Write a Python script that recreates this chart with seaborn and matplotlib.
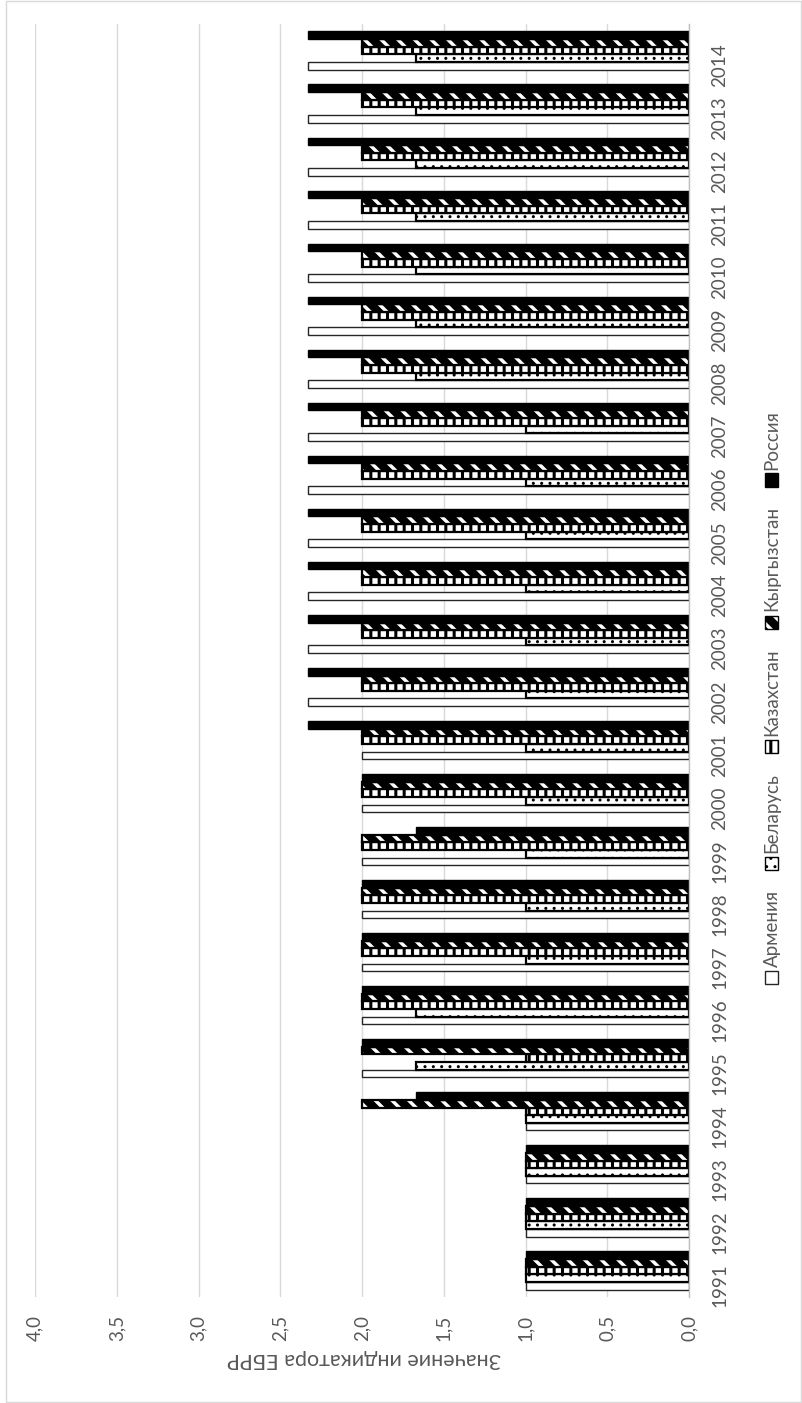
import matplotlib
matplotlib.use("Agg")
import matplotlib.pyplot as plt
from matplotlib.patches import Rectangle
import pandas as pd
import seaborn as sns

# EBRR transition indicator by year and country
years = ["1991", "1992", "1993", "1994", "1995", "1996", "1997", "1998",
         "1999", "2000", "2001", "2002", "2003", "2004", "2005", "2006",
         "2007", "2008", "2009", "2010", "2011", "2012", "2013", "2014"]
countries = ["Армения", "Беларусь", "Казахстан", "Кыргызстан", "Россия"]

armenia = [1.00, 1.00, 1.00, 1.00, 2.00, 2.00, 2.00, 2.00, 2.00, 2.00, 2.00, 2.33,
           2.33, 2.33, 2.33, 2.33, 2.33, 2.33, 2.33, 2.33, 2.33, 2.33, 2.33, 2.33]
belarus = [1.00, 1.00, 1.00, 1.00, 1.67, 1.67, 1.00, 1.00, 1.00, 1.00, 1.00, 1.00,
           1.00, 1.00, 1.00, 1.00, 1.00, 1.67, 1.67, 1.67, 1.67, 1.67, 1.67, 1.67]
kazakhstan = [1.00, 1.00, 1.00, 1.00, 1.00, 2.00, 2.00, 2.00, 2.00, 2.00, 2.00, 2.00,
              2.00, 2.00, 2.00, 2.00, 2.00, 2.00, 2.00, 2.00, 2.00, 2.00, 2.00, 2.00]
kyrgyzstan = [1.00, 1.00, 1.00, 2.00, 2.00, 2.00, 2.00, 2.00, 2.00, 2.00, 2.00, 2.00,
              2.00, 2.00, 2.00, 2.00, 2.00, 2.00, 2.00, 2.00, 2.00, 2.00, 2.00, 2.00]
russia = [1.00, 1.00, 1.00, 1.67, 2.00, 2.00, 2.00, 2.00, 1.67, 2.00, 2.33, 2.33,
          2.33, 2.33, 2.33, 2.33, 2.33, 2.33, 2.33, 2.33, 2.33, 2.33, 2.33, 2.33]

value_ticks = [0.0, 0.5, 1.0, 1.5, 2.0, 2.5, 3.0, 3.5, 4.0]
axis_title = "Значение индикатора ЕБРР"

series = [armenia, belarus, kazakhstan, kyrgyzstan, russia]
df = pd.DataFrame({
    "year": years * len(countries),
    "country": [c for c in countries for _ in years],
    "value": [v for s in series for v in s],
})

sns.set_theme(style="white")
plt.rcParams["font.family"] = ["Lato", "DejaVu Sans"]
plt.rcParams["hatch.linewidth"] = 2.0

TXT = "#595959"
GRID = "#d9d9d9"
W, H = 802, 1403
FS = 13.5

# fill / hatch per country
styles = {
    "Армения":    dict(face="white", edge="#262626", hatch=None, hlw=None, lw=1.0),
    "Беларусь":   dict(face="white", edge="black", hatch="..", hlw=1.0, lw=1.6),
    "Казахстан":  dict(face="white", edge="black", hatch="||", hlw=2.2, lw=1.6),
    "Кыргызстан": dict(face="white", edge="black", hatch="\\\\", hlw=6.0, lw=1.6),
    "Россия":     dict(face="black", edge="black", hatch=None, hlw=None, lw=1.0),
}


def style_patch(p, st):
    p.set_facecolor(st["face"])
    p.set_edgecolor(st["edge"])
    p.set_linewidth(st["lw"])
    if st["hatch"]:
        p.set_hatch(st["hatch"])
        if hasattr(p, "set_hatch_linewidth"):
            p.set_hatch_linewidth(st["hlw"])


fig = plt.figure(figsize=(W / 100, H / 100), dpi=100)
fig.patch.set_facecolor("white")
ax = fig.add_axes([35 / W, 1 - 1297 / H, (689 - 35) / W, (1297 - 24) / H])

sns.barplot(data=df, x="value", y="year", hue="country", order=years,
            hue_order=countries, orient="h", width=0.72, legend=False,
            palette=["white"] * len(countries), ax=ax, err_kws={"linewidth": 0})

for cont, name in zip(ax.containers, countries):
    for p in cont.patches:
        style_patch(p, styles[name])

# value axis: 4 on the left, 0 on the right; years run bottom to top
ax.set_xlim(4.0, 0.0)
ax.set_ylim(-0.5, len(years) - 0.5)
ax.set_xticks(value_ticks)
ax.set_xticklabels([f"{t:.1f}".replace(".", ",") for t in value_ticks])
ax.xaxis.grid(True, color=GRID, linewidth=1.0)
ax.set_axisbelow(True)
ax.yaxis.tick_right()
ax.set_xlabel("")
ax.set_ylabel("")
for s in ["left", "top", "bottom"]:
    ax.spines[s].set_visible(False)
ax.spines["right"].set_color("#bfbfbf")
ax.spines["right"].set_linewidth(1.0)

ax.tick_params(axis="x", labelrotation=90, colors=TXT, labelsize=FS,
               length=0, pad=13)
ax.tick_params(axis="y", labelrotation=90, colors=TXT, labelsize=FS,
               length=0, pad=16, left=False, right=False,
               labelleft=False, labelright=True)

fig.text(364 / W, 1 - 1359 / H, axis_title, rotation=180, ha="center",
         va="center", color=TXT, fontsize=15.5)

# legend, rotated to run bottom to top along the right edge
fig.canvas.draw()
renderer = fig.canvas.get_renderer()
y = 984
for name in countries:
    st = styles[name]
    sq = Rectangle((765 / W, 1 - y / H), 13 / W, 13 / H,
                   transform=fig.transFigure, figure=fig)
    style_patch(sq, st)
    sq.set_linewidth(1.0)
    fig.patches.append(sq)
    y -= 13 + 4
    t = fig.text(772 / W, 1 - y / H, name, rotation=90, ha="center",
                 va="bottom", color=TXT, fontsize=FS)
    bb = t.get_window_extent(renderer)
    y -= bb.height + 20

# outer chart frame
fig.patches.append(Rectangle((6 / W, 1 / H), 795 / W, 1 - 2 / H, fill=False,
                             edgecolor=GRID, linewidth=1.0,
                             transform=fig.transFigure, figure=fig))

fig.savefig("out.png", dpi=100)
